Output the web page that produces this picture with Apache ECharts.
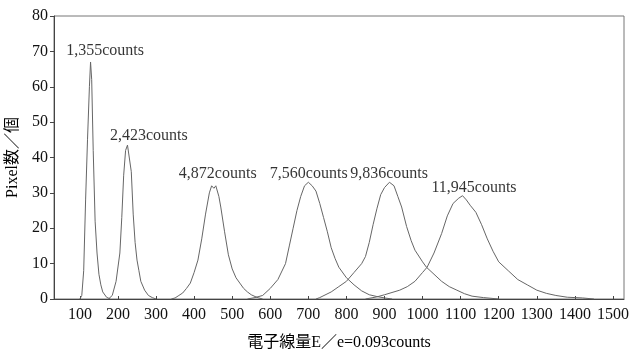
<!DOCTYPE html>
<html>
<head>
<meta charset="utf-8">
<script src="https://cdn.jsdelivr.net/npm/echarts@6/dist/echarts.min.js"></script>
<style>html,body{margin:0;padding:0;background:#fff}#c{width:636px;height:351px}</style>
</head>
<body>
<div id="c"></div>
<script>
// x axis tick labels
var xTicks = [100,200,300,400,500,600,700,800,900,1000,1100,1200,1300,1400,1500];
// peak series: [E, pixel count]
var peak1355 = [[100,0],[105,1],[110,8],[115,28],[120,45],[125,60],[128,67],[131,62],[135,42],[140,22],[145,13],[150,7],[155,4],[160,2],[170,0.5],[180,0]];
var peak2423 = [[175,0],[185,1],[195,5],[205,13],[210,23],[215,35],[220,42],[225,43.5],[230,43],[235,36],[240,24],[245,16],[250,11],[255,8],[260,5],[270,2.5],[280,1],[290,0.4],[300,0]];
var peak4872 = [[340,0],[350,0.3],[360,1],[370,1.7],[380,3],[390,4.5],[400,7.5],[410,11],[420,17],[430,24],[440,30],[446,32],[452,31.3],[457,32],[465,29],[470,26],[480,19],[490,12.5],[500,8.5],[510,6],[520,4.5],[530,3],[540,2],[550,1.2],[560,0.7],[570,0.3],[580,0]];
var peak7560 = [[540,0],[560,0.4],[580,1],[600,3],[620,5.5],[640,10],[650,15],[660,20],[670,25],[680,29],[690,32],[700,33],[710,32],[720,30.5],[730,27],[740,23],[750,19],[760,14.5],[770,11.5],[780,9],[800,6],[820,4],[840,2.3],[860,1.2],[880,0.7],[900,0.3],[920,0]];
var peak9836 = [[720,0],[730,0.4],[760,2],[780,3.5],[800,5],[820,7.5],[840,10],[850,12],[860,16],[870,21],[880,25.5],[890,29.5],[900,31.5],[913,33],[925,32],[935,29],[945,26],[958,20.5],[970,16.5],[980,13.8],[1000,10.5],[1010,9],[1030,7],[1050,5],[1070,3.5],[1090,2.5],[1110,1.5],[1130,0.8],[1160,0.4],[1200,0]];
var peak11945 = [[850,0],[880,0.6],[900,1.2],[940,2.5],[960,3.5],[980,5],[1000,7.5],[1012,9],[1030,13],[1050,18.5],[1065,23.5],[1080,27],[1095,28.5],[1105,29.2],[1115,28],[1125,26.5],[1140,24.5],[1155,21],[1170,17],[1185,13.5],[1200,10.5],[1225,8],[1250,5.5],[1275,4],[1300,2.5],[1325,1.6],[1350,1],[1380,0.5],[1420,0.3],[1450,0]];
// annotation labels
var labelText = ['1,355counts','2,423counts','4,872counts','7,560counts','9,836counts','11,945counts'];
var labelX = [166, 281, 462, 701, 912, 1135];
var labelY = [70.2, 46.1, 35.3, 35.3, 35.3, 31.4];

var peaks = [peak1355, peak2423, peak4872, peak7560, peak9836, peak11945];
var serif = '"Liberation Serif","Noto Sans CJK JP",serif';
var series = peaks.map(function(d){
  return {type:'line', data:d, showSymbol:false, symbol:'none', smooth:false,
    lineStyle:{color:'#666', width:1}, silent:true, z:2};
});
series.push({
  type:'scatter', symbolSize:0, silent:true, z:5,
  data: labelText.map(function(t,i){ return {name:t, value:[labelX[i], labelY[i]]}; }),
  label:{show:true, position:'inside', formatter:'{b}', color:'#000', fontFamily:serif, fontSize:16}
});
var chart = echarts.init(document.getElementById('c'), null, {renderer:'canvas'});
chart.setOption({
  animation:false,
  backgroundColor:'#fff',
  grid:{left:54, right:12, top:16, bottom:52, containLabel:false, outerBoundsMode:'none',
    show:true, borderColor:'#777', borderWidth:1, backgroundColor:'transparent'},
  xAxis:{type:'value', min:32, max:1529,
    name:'電子線量E／e=0.093counts', nameLocation:'middle', nameGap:36,
    nameTextStyle:{fontFamily:serif, fontSize:16, color:'#000'},
    axisLine:{show:true, onZero:false, lineStyle:{color:'#444', width:1}},
    axisTick:{show:true, inside:true, length:3, customValues:xTicks, lineStyle:{color:'#444'}},
    axisLabel:{customValues:xTicks, formatter:function(v){return String(v);}, fontFamily:serif, fontSize:16, color:'#111', margin:8},
    splitLine:{show:false}},
  yAxis:{type:'value', min:0, max:80, interval:10,
    name:'Pixel数／個', nameLocation:'middle', nameGap:26, nameRotate:90,
    nameTextStyle:{fontFamily:serif, fontSize:16, color:'#000'},
    axisLine:{show:true, lineStyle:{color:'#444', width:1}},
    axisTick:{show:true, inside:false, length:4, lineStyle:{color:'#444'}},
    axisLabel:{fontFamily:serif, fontSize:16, color:'#111', margin:6},
    splitLine:{show:false}},
  series:series
});
</script>
</body>
</html>
